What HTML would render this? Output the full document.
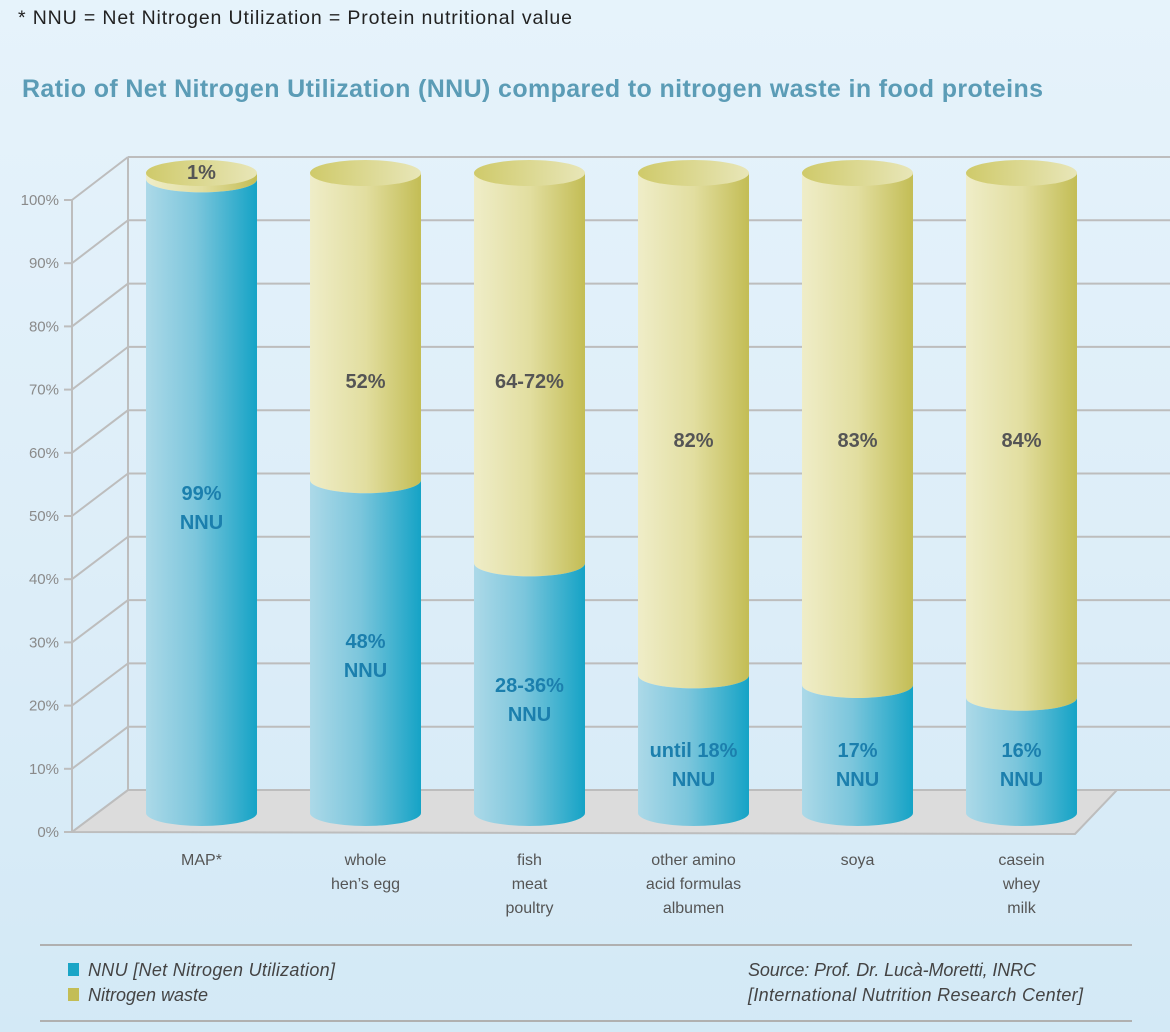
<!DOCTYPE html>
<html><head><meta charset="utf-8"><style>
html,body{margin:0;padding:0}
body{width:1170px;height:1032px;overflow:hidden;background:linear-gradient(180deg,#e6f3fb 0%,#dcedf8 60%,#d3e9f6 100%);font-family:"Liberation Sans",sans-serif}
svg{position:absolute;left:0;top:0}
</style></head><body>
<svg id="chart" width="1170" height="1032" viewBox="0 0 1170 1032" xmlns="http://www.w3.org/2000/svg">
<defs>
<linearGradient id="gBlue" x1="0" x2="1"><stop offset="0" stop-color="#acd9e8"/><stop offset="0.45" stop-color="#7cc6dc"/><stop offset="1" stop-color="#15a3c6"/></linearGradient>
<linearGradient id="gYel" x1="0" x2="1"><stop offset="0" stop-color="#efedc8"/><stop offset="0.5" stop-color="#e2dea0"/><stop offset="1" stop-color="#c3bd55"/></linearGradient>
<linearGradient id="gTop" x1="0" x2="1"><stop offset="0" stop-color="#cfca6a"/><stop offset="1" stop-color="#e8e6b8"/></linearGradient>
</defs>
<text x="18" y="24" font-size="19.5" fill="#222" textLength="554">* NNU = Net Nitrogen Utilization = Protein nutritional value</text>
<text x="22" y="97" font-size="25" font-weight="bold" fill="#5b9cb6" textLength="1021">Ratio of Net Nitrogen Utilization (NNU) compared to nitrogen waste in food proteins</text>
<g id="axes"></g>
<g id="bars"></g>
<line x1="40" y1="945" x2="1132" y2="945" stroke="#b0b0b0" stroke-width="2"/>
<line x1="40" y1="1021" x2="1132" y2="1021" stroke="#b0b0b0" stroke-width="2"/>
<rect x="68" y="963" width="11" height="13" fill="#1aa5c6"/>
<text x="88" y="976" font-size="18" font-style="italic" fill="#444" textLength="247">NNU [Net Nitrogen Utilization]</text>
<rect x="68" y="988" width="11" height="13" fill="#c3bd55"/>
<text x="88" y="1001" font-size="18" font-style="italic" fill="#444">Nitrogen waste</text>
<text x="748" y="976" font-size="18" font-style="italic" fill="#444" textLength="288">Source: Prof. Dr. Lucà-Moretti, INRC</text>
<text x="748" y="1001" font-size="18" font-style="italic" fill="#444" textLength="335">[International Nutrition Research Center]</text>
</svg>
<script>
const categories=[["MAP*"],["whole","hen’s egg"],["fish","meat","poultry"],["other amino","acid formulas","albumen"],["soya"],["casein","whey","milk"]];
const nnuValues=[99,52,39,21.5,20,18];
const nnuLabels=["99%","48%","28-36%","until 18%","17%","16%"];
const wasteLabels=["1%","52%","64-72%","82%","83%","84%"];
const yTicks=[0,10,20,30,40,50,60,70,80,90,100];
const NS="http://www.w3.org/2000/svg";
function mk(t,a,p){const e=document.createElementNS(NS,t);for(const k in a)e.setAttribute(k,a[k]);p.appendChild(e);return e;}
const yFront=v=>832-v*6.32, yBack=v=>790-v*6.33;
const axes=document.getElementById('axes');
const gs="#bdbdbd";
const fl=mk('polygon',{points:"72,832 128,790 1117,790 1075,834",fill:"#dcdcdc",stroke:gs,"stroke-width":2},axes);

yTicks.forEach(v=>{
 const l=mk('line',{x1:128,y1:yBack(v),x2:1170,y2:yBack(v),stroke:gs,"stroke-width":2},axes);
 
 const d=mk('line',{x1:72,y1:yFront(v),x2:128,y2:yBack(v),stroke:gs,"stroke-width":2},axes);
 
 const tk=mk('line',{x1:64,y1:yFront(v),x2:72,y2:yFront(v),stroke:gs,"stroke-width":2},axes);
 
 const t=mk('text',{x:59,y:yFront(v)+5,"font-size":15,fill:"#8a8a8a","text-anchor":"end"},axes);
 
 t.textContent=v+"%";
});
const ya=mk('line',{x1:72,y1:yFront(0),x2:72,y2:yFront(100),stroke:gs,"stroke-width":2},axes);

const bw=mk('line',{x1:128,y1:yBack(0),x2:128,y2:yBack(100),stroke:gs,"stroke-width":2},axes);

const bars=document.getElementById('bars');
const bottom=813, H=640, rx=55.5, ry=13;
const cy=v=>bottom-v/100*H;
const wasteY=[0,388,388,447,447,447];
const nnuY=[500,648,692,757,757,757];
categories.forEach((c,i)=>{
 const cx=201.5+164*i, x0=cx-rx;
 const g=mk('g',{},bars);
 
 const ys=cy(nnuValues[i]), yt=cy(100);
 const w=mk('path',{d:`M${x0},${yt} L${x0},${ys} A${rx},${ry} 0 0 0 ${cx+rx},${ys} L${cx+rx},${yt} Z`,fill:"url(#gYel)"},g);
 
 const b=mk('path',{d:`M${x0},${ys} A${rx},${ry} 0 0 0 ${cx+rx},${ys} L${cx+rx},${bottom} A${rx},${ry} 0 0 1 ${x0},${bottom} Z`,fill:"url(#gBlue)"},g);
 
 const tp=mk('ellipse',{cx:cx,cy:yt,rx:rx,ry:ry,fill:"url(#gTop)"},g);
 
 const wl=mk('text',{x:cx,y:i==0?yt+6:wasteY[i],"font-size":20,"font-weight":"bold",fill:"#555","text-anchor":"middle"},g);
 
 wl.textContent=wasteLabels[i];
 const nl=mk('text',{x:cx,y:nnuY[i],"font-size":20,"font-weight":"bold",fill:"#1b7fad","text-anchor":"middle"},g);
 
 mk('tspan',{x:cx},nl).textContent=nnuLabels[i];
 mk('tspan',{x:cx,dy:29},nl).textContent="NNU";
 const cl=mk('text',{x:cx,y:865,"font-size":16,fill:"#555","text-anchor":"middle"},bars);
 
 c.forEach((line,j)=>{const s=mk('tspan',{x:cx,dy:j?24:0},cl);s.textContent=line;});
});
</script>
</body></html>
